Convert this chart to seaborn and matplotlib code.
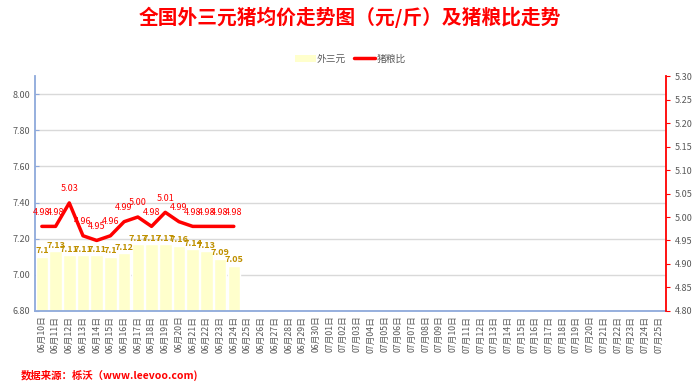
import numpy as np
import pandas as pd
import matplotlib
matplotlib.use("Agg")
import matplotlib.pyplot as plt
import seaborn as sns
from matplotlib.lines import Line2D
from matplotlib.patches import Patch

# 数据
dates = ["06月%02d日" % d for d in range(10, 31)] + ["07月%02d日" % d for d in range(1, 26)]
price = [7.1, 7.13, 7.11, 7.11, 7.11, 7.1, 7.12, 7.17, 7.17, 7.17, 7.16, 7.14, 7.13, 7.09, 7.05]
ratio = [4.98, 4.98, 5.03, 4.96, 4.95, 4.96, 4.99, 5.00, 4.98, 5.01, 4.99, 4.98, 4.98, 4.98, 4.98]
price_labels = ["7.1", "7.13", "7.11", "7.11", "7.11", "7.1", "7.12", "7.17", "7.17", "7.17",
                "7.16", "7.14", "7.13", "7.09", "7.05"]
ratio_labels = ["4.98", "4.98", "5.03", "4.96", "4.95", "4.96", "4.99", "5.00", "4.98", "5.01",
                "4.99", "4.98", "4.98", "4.98", "4.98"]

sns.set_style("white")
plt.rcParams['font.family'] = ['Noto Sans CJK SC', 'DejaVu Sans']

df = pd.DataFrame({"date": dates,
                   "price": price + [np.nan] * (len(dates) - len(price))})
pos = np.arange(len(ratio))

fig = plt.figure(figsize=(7, 3.91), dpi=100)
ax = fig.add_axes([0.05, 0.205, 0.901, 0.6])

sns.barplot(data=df, x="date", y="price", order=dates, color="#FFFFCC",
            saturation=1, width=0.92, ax=ax)
ax.set_ylim(6.8, 8.1)
ax.set_yticks(np.arange(6.8, 8.01, 0.2))
ax.set_yticklabels(["%.2f" % v for v in np.arange(6.8, 8.01, 0.2)])
ax.set_xlim(-0.5, len(dates) - 0.5)
ax.set_xlabel("")
ax.set_ylabel("")
ax.yaxis.grid(True, color="#D9D9D9", linewidth=1)
ax.set_axisbelow(True)
ax.tick_params(axis="x", rotation=90, labelsize=6.3, colors="#595959", length=3, color="#8EA9DB")
ax.tick_params(axis="y", labelsize=6.5, labelcolor="#595959", length=3, color="#8EA9DB", direction="in")
ax.tick_params(axis="x", direction="in", color="#4472C4")
for side in ["top", "right"]:
    ax.spines[side].set_visible(False)
ax.spines["left"].set_color("#8EA9DB")
ax.spines["left"].set_linewidth(1.3)
ax.spines["bottom"].set_color("#8EA9DB")
ax.spines["bottom"].set_linewidth(1.3)

for x, y, t in zip(pos, price, price_labels):
    ax.annotate(t, (x, y), xytext=(0, 1), textcoords="offset points",
                ha="center", va="bottom", color="#BF9000", fontsize=6.5, fontweight="bold")

ax2 = ax.twinx()
sns.lineplot(x=pos, y=ratio, color="#FF0000", linewidth=2.5, ax=ax2)
ax2.set_ylim(4.8, 5.3)
ax2.set_yticks(np.arange(4.8, 5.301, 0.05))
ax2.set_yticklabels(["%.2f" % v for v in np.arange(4.8, 5.301, 0.05)])
ax2.tick_params(axis="y", labelsize=6.5, labelcolor="#595959", color="#FF0000", length=3)
for side in ["top", "left", "bottom"]:
    ax2.spines[side].set_visible(False)
ax2.spines["right"].set_color("#FF0000")
ax2.spines["right"].set_linewidth(1.3)
for x, y, t in zip(pos, ratio, ratio_labels):
    ax2.annotate(t, (x, y), xytext=(0, 7), textcoords="offset points",
                 ha="center", va="bottom", color="#FF0000", fontsize=6.5)

fig.text(0.5, 0.955, "全国外三元猪均价走势图（元/斤）及猪粮比走势", ha="center", va="center",
         color="#FF0000", fontsize=14.2, fontweight="bold")
handles = [Patch(facecolor="#FFFFCC", edgecolor="none", label="外三元"),
           Line2D([], [], color="#FF0000", linewidth=2.5, label="猪粮比")]
fig.legend(handles=handles, loc="center", bbox_to_anchor=(0.5, 0.85), ncol=2, frameon=False,
           fontsize=7, labelcolor="#595959", handlelength=2.2, handletextpad=0.1, columnspacing=0.8)
fig.text(0.03, 0.04, "数据来源：栎沃（www.leevoo.com)", ha="left", va="center",
         color="#FF0000", fontsize=7.5, fontweight="bold")

fig.savefig("out.png", dpi=100)
